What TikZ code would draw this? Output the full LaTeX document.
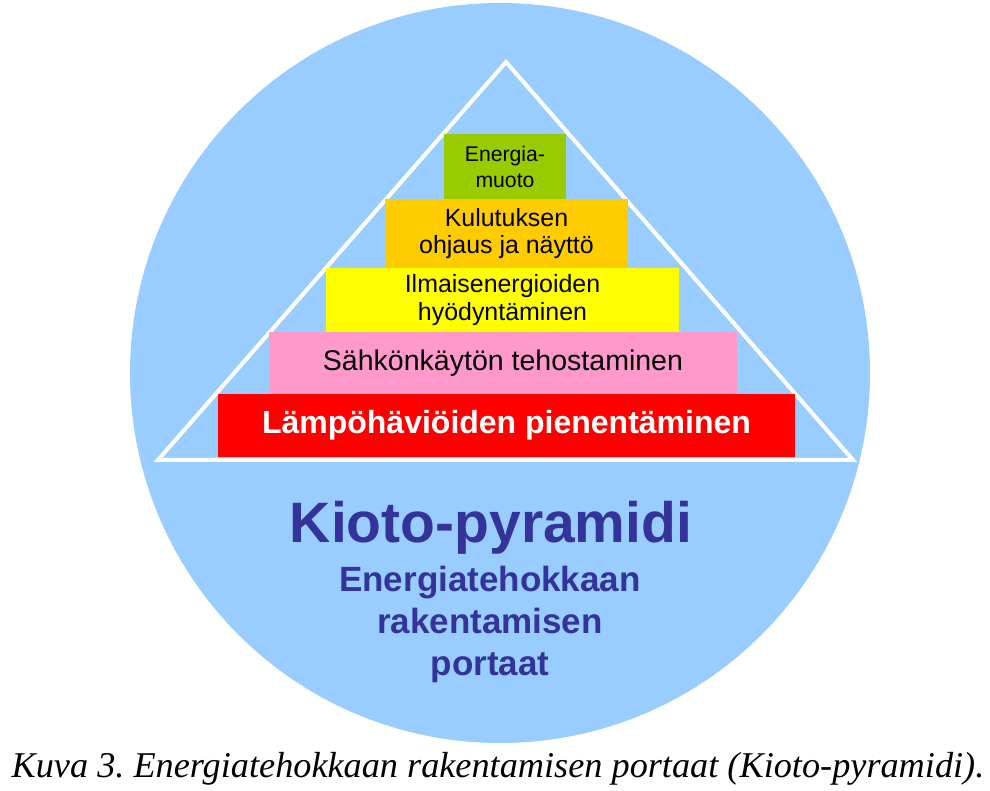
\documentclass[tikz,border=0pt]{standalone}
\usepackage{fontspec}
\setmainfont{Liberation Sans}
\newfontfamily\captionserif{Liberation Serif}
\usetikzlibrary{positioning}
\definecolor{kiotoblue}{RGB}{153,204,255}
\definecolor{kiotoink}{RGB}{51,51,153}
\definecolor{stepgreen}{RGB}{153,204,0}
\definecolor{steporange}{RGB}{255,204,0}
\definecolor{stepyellow}{RGB}{255,255,0}
\definecolor{steppink}{RGB}{255,153,204}
\definecolor{stepred}{RGB}{255,0,0}
\frenchspacing

\begin{document}
\begin{tikzpicture}[x=0.75pt, y=-0.75pt,
  stepbox/.style={rectangle, inner sep=0pt, align=center, text=black},
  title/.style={text=kiotoink, font=\bfseries\fontsize{42.75}{48}\selectfont, anchor=base},
  subtitle/.style={text=kiotoink, align=center, anchor=base, font=\bfseries\fontsize{26.25}{31.5}\selectfont}
]
\useasboundingbox (0,0) rectangle (990,791);
\fill[kiotoblue] (500,373) circle[radius=277.5pt];
\draw[white, line width=3pt, line join=miter] (506,62) -- (158,460) -- (853,460) -- cycle;
\node[stepbox, fill=stepgreen, minimum width=91.5pt, minimum height=48.75pt, font=\fontsize{15.9}{19.5}\selectfont] (muoto) at (505,167) {Energia-\\muoto};
\node[stepbox, fill=steporange, minimum width=182.25pt, minimum height=51pt, font=\fontsize{18.7}{20.25}\selectfont] (ohjaus) at (506.5,233.5) {Kulutuksen\\ohjaus ja näyttö};
\node[stepbox, fill=stepyellow, minimum width=264.75pt, minimum height=48pt, font=\fontsize{18.7}{21}\selectfont] (ilmais) at (502.5,300) {Ilmaisenergioiden\\hyödyntäminen};
\node[stepbox, fill=steppink, minimum width=351pt, minimum height=46.5pt, font=\fontsize{21.4}{24}\selectfont] (sahko) at (503,363) {Sähkönkäytön tehostaminen};
\node[stepbox, fill=stepred, text=white, minimum width=432.75pt, minimum height=47.25pt, font=\bfseries\fontsize{24}{28}\selectfont] (lampo) at (506.5,425.5) {Lämpöhäviöiden pienentäminen};
\node[title] (kioto) at (491,543) {Kioto-pyramidi};
\node[subtitle] (portaat) at (490,676) {Energiatehokkaan\\rakentamisen\\portaat};
\node[anchor=base, font=\captionserif\itshape\fontsize{27.2}{31}\selectfont] (kuva) at (498,777) {Kuva 3. Energiatehokkaan rakentamisen portaat (Kioto-pyramidi).};
\end{tikzpicture}
\end{document}
